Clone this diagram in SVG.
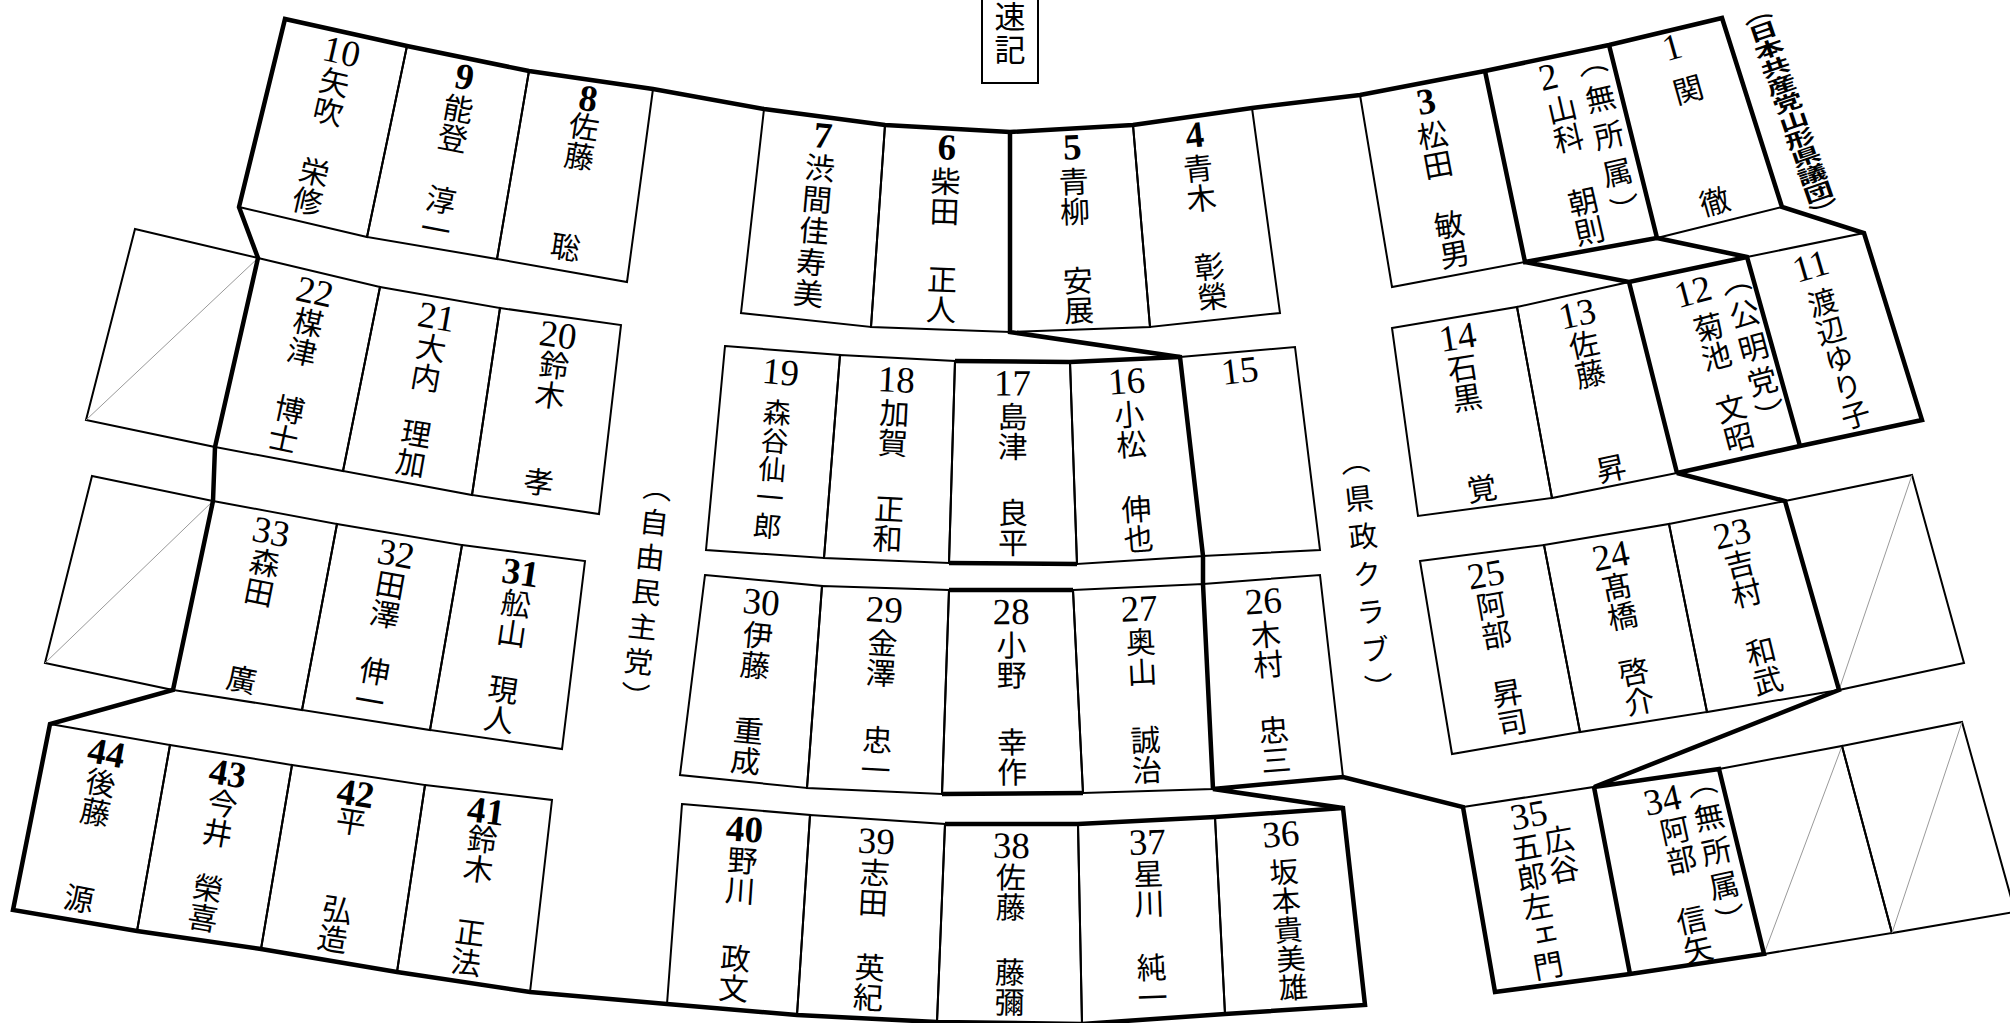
<svg xmlns="http://www.w3.org/2000/svg" width="2010" height="1023" viewBox="0 0 2010 1023">
<style>
.seat{fill:none;stroke:#000;stroke-width:2}
.thick{fill:none;stroke:#000;stroke-width:4.5;stroke-linejoin:miter}
.diag{stroke:#999;stroke-width:1}
.num{font-family:"Liberation Serif",serif;font-size:37px;text-anchor:middle}
.b{font-weight:bold}
.nm{font-family:"Noto Sans CJK JP",sans-serif;font-size:30px;writing-mode:vertical-rl}
.e{text-anchor:end}
.pty{letter-spacing:5px}
.lbl{font-family:"Noto Sans CJK JP",sans-serif;font-size:29px;writing-mode:vertical-rl}
</style>
<rect width="2010" height="1023" fill="#fff"/>

<g id="empty-boxes">
<polygon class="seat" points="135,229 258,258 215,447 86,420"/><line class="diag" x1="258" y1="258" x2="86" y2="420"/>
<polygon class="seat" points="92,476 213,501 173,690 45,663"/><line class="diag" x1="213" y1="501" x2="45" y2="663"/>
<polygon class="seat" points="1785,501 1912,475 1964,663 1839,690"/><line class="diag" x1="1912" y1="475" x2="1839" y2="690"/>
<polygon class="seat" points="1719,769 1842,746 1892,933 1764,954"/><line class="diag" x1="1842" y1="746" x2="1764" y2="954"/>
<polygon class="seat" points="1842,746 1962,722 2015,912 1892,933"/><line class="diag" x1="1962" y1="722" x2="1892" y2="933"/>
</g>

<g id="seat-10"><polygon class="seat" points="285,19 407,46 367,237 239,207"/><g transform="translate(346,32.5) rotate(12.8)"><text class="num" y="32">10</text><text class="nm" y="36">矢吹</text><text class="nm e" y="188">栄修</text></g></g>
<g id="seat-9"><polygon class="seat" points="407,46 529,71 497,259 367,237"/><g transform="translate(468,58.5) rotate(10.75)"><text class="num b" y="31">9</text><text class="nm" y="36">能登</text><text class="nm e" y="189">淳一</text></g></g>
<g id="seat-8"><polygon class="seat" points="529,71 653,89 627,282 497,259"/><g transform="translate(591,80) rotate(8.66)"><text class="num b" y="31">8</text><text class="nm" y="32">佐藤</text><text class="nm e" y="184">聡</text></g></g>
<g id="seat-7"><polygon class="seat" points="764,109 885,125 871,327 741,313"/><g transform="translate(824.5,117) rotate(5.2)"><text class="num b" y="31">7</text><text class="nm" y="36" style="letter-spacing:1.5px">渋間佳寿美</text></g></g>
<g id="seat-6"><polygon class="seat" points="885,125 1010,132 1010,332 871,327"/><g transform="translate(947.5,128.5) rotate(2)"><text class="num b" y="31">6</text><text class="nm" y="38">柴田</text><text class="nm e" y="196">正人</text></g></g>
<g id="seat-5"><polygon class="seat" points="1010,132 1133,125 1150,327 1010,332"/><g transform="translate(1071.5,128.5) rotate(-2.4)"><text class="num b" y="31">5</text><text class="nm" y="38">青柳</text><text class="nm e" y="197">安展</text></g></g>
<g id="seat-4"><polygon class="seat" points="1133,125 1252,108 1280,313 1150,327"/><g transform="translate(1192.5,116.5) rotate(-6.3)"><text class="num b" y="31">4</text><text class="nm" y="37">青木</text><text class="nm e" y="196">彰榮</text></g></g>
<g id="seat-3"><polygon class="seat" points="1360,95 1485,71 1525,262 1392,287"/><g transform="translate(1422.5,83) rotate(-10.65)"><text class="num b" y="31">3</text><text class="nm" y="38">松田</text><text class="nm e" y="189">敏男</text></g></g>
<g id="seat-2"><polygon class="seat" points="1485,71 1609,45 1657,238 1525,262"/><g transform="translate(1547,58) rotate(-12.9)"><text class="num" x="-3" y="31">2</text><text class="nm" x="3" y="38">山科</text><text class="nm e" x="3" y="193">朝則</text><text class="nm" x="43" y="-2" style="letter-spacing:8px">（無所属）</text></g></g>
<g id="seat-1"><polygon class="seat" points="1609,45 1722,18 1782,207 1657,238"/><g transform="translate(1665.5,31.5) rotate(-15.8)"><text class="num" x="2" y="29">1</text><text class="nm" x="6" y="47">関</text><text class="nm e" x="1" y="192">徹</text></g></g>

<g id="seat-22"><polygon class="seat" points="258,258 380,287 343,471 215,447"/><g transform="translate(319,272.5) rotate(12.1)"><text class="num" y="32">22</text><text class="nm" y="36">楳津</text><text class="nm e" y="185">博士</text></g></g>
<g id="seat-21"><polygon class="seat" points="380,287 500,308 472,495 343,471"/><g transform="translate(440,297.5) rotate(9.94)"><text class="num" y="32">21</text><text class="nm" y="36">大内</text><text class="nm e" y="183">理加</text></g></g>
<g id="seat-20"><polygon class="seat" points="500,308 621,325 599,514 472,495"/><g transform="translate(560.5,316.5) rotate(7.57)"><text class="num" y="31">20</text><text class="nm" y="34">鈴木</text><text class="nm e" y="182">孝</text></g></g>
<g id="seat-19"><polygon class="seat" points="725,346 840,355 824,558 706,550"/><g transform="translate(782.5,350.5) rotate(4.9)"><text class="num" y="34">19</text><text class="nm" y="48" style="font-size:28px;letter-spacing:0.5px">森谷仙一郎</text></g></g>
<g id="seat-18"><polygon class="seat" points="840,355 955,361 949,563 824,558"/><g transform="translate(897.5,358) rotate(3.1)"><text class="num" y="34">18</text><text class="nm" y="40">加賀</text><text class="nm e" y="196">正和</text></g></g>
<g id="seat-17"><polygon class="seat" points="955,361 1070,362 1077,564 949,563"/><g transform="translate(1012.5,361.5) rotate(-0.14)"><text class="num" y="34">17</text><text class="nm" y="40">島津</text><text class="nm e" y="196">良平</text></g></g>
<g id="seat-16"><polygon class="seat" points="1070,362 1180,357 1203,556 1077,564"/><g transform="translate(1125,359.5) rotate(-4.3)"><text class="num" y="34">16</text><text class="nm" y="40">小松</text><text class="nm e" y="195">伸也</text></g></g>
<g id="seat-15"><polygon class="seat" points="1180,357 1295,347 1320,550 1203,556"/><g transform="translate(1237.5,352) rotate(-6.8)"><text class="num" y="31">15</text></g></g>
<g id="seat-14"><polygon class="seat" points="1392,328 1517,307 1552,498 1418,516"/><g transform="translate(1454.5,317.5) rotate(-9.1)"><text class="num" y="32">14</text><text class="nm" y="36">石黒</text><text class="nm e" y="188">覚</text></g></g>
<g id="seat-13"><polygon class="seat" points="1517,307 1629,282 1677,473 1552,498"/><g transform="translate(1573,294.5) rotate(-12.3)"><text class="num" y="32">13</text><text class="nm" y="36">佐藤</text><text class="nm e" y="193">昇</text></g></g>
<g id="seat-12"><polygon class="seat" points="1629,282 1747,257 1800,446 1677,473"/><g transform="translate(1688,269.5) rotate(-14.9)"><text class="num" x="-1" y="35">12</text><text class="nm" x="5" y="46">菊池</text><text class="nm e" x="6" y="190">文昭</text><text class="nm pty" x="43" y="7">（公明党）</text></g></g>
<g id="seat-11"><polygon class="seat" points="1747,257 1864,233 1922,420 1800,446"/><g transform="translate(1805.5,245) rotate(-16.4)"><text class="num" x="-1" y="34">11</text><text class="nm" y="45" style="font-size:29.3px">渡辺ゆり子</text></g></g>

<g id="seat-33"><polygon class="seat" points="213,501 337,524 302,710 173,690"/><g transform="translate(275,512.5) rotate(11.3)"><text class="num" y="32">33</text><text class="nm" y="36">森田</text><text class="nm e" y="185">廣</text></g></g>
<g id="seat-32"><polygon class="seat" points="337,524 462,545 430,730 302,710"/><g transform="translate(399.5,534.5) rotate(10.2)"><text class="num" y="32">32</text><text class="nm" y="36">田澤</text><text class="nm e" y="184">伸一</text></g></g>
<g id="seat-31"><polygon class="seat" points="462,545 585,561 562,749 430,730"/><g transform="translate(523.5,553) rotate(8.4)"><text class="num b" y="32">31</text><text class="nm" y="36">舩山</text><text class="nm e" y="183">現人</text></g></g>
<g id="seat-30"><polygon class="seat" points="705,575 822,586 807,788 680,775"/><g transform="translate(763.5,580.5) rotate(5.7)"><text class="num" y="34">30</text><text class="nm" y="40">伊藤</text><text class="nm e" y="196">重成</text></g></g>
<g id="seat-29"><polygon class="seat" points="822,586 949,590 942,794 807,788"/><g transform="translate(885.5,588) rotate(3.1)"><text class="num" y="34">29</text><text class="nm" y="40">金澤</text><text class="nm e" y="197">忠一</text></g></g>
<g id="seat-28"><polygon class="seat" points="949,590 1073,590 1083,793 942,794"/><g transform="translate(1011,590) rotate(-0.4)"><text class="num" y="34">28</text><text class="nm" y="40">小野</text><text class="nm e" y="197">幸作</text></g></g>
<g id="seat-27"><polygon class="seat" points="1073,590 1203,584 1213,789 1083,793"/><g transform="translate(1138,587) rotate(-2.8)"><text class="num" y="34">27</text><text class="nm" y="40">奥山</text><text class="nm e" y="198">誠治</text></g></g>
<g id="seat-26"><polygon class="seat" points="1203,584 1320,575 1343,777 1213,789"/><g transform="translate(1261.5,579.5) rotate(-4.6)"><text class="num" y="34">26</text><text class="nm" y="40">木村</text><text class="nm e" y="196">忠三</text></g></g>
<g id="seat-25"><polygon class="seat" points="1420,561 1544,545 1580,732 1452,754"/><g transform="translate(1482,553) rotate(-10.1)"><text class="num" y="34">25</text><text class="nm" y="38">阿部</text><text class="nm e" y="187">昇司</text></g></g>
<g id="seat-24"><polygon class="seat" points="1544,545 1669,524 1707,712 1580,732"/><g transform="translate(1606.5,534.5) rotate(-11.2)"><text class="num" y="34">24</text><text class="nm" y="38">髙橋</text><text class="nm e" y="185">啓介</text></g></g>
<g id="seat-23"><polygon class="seat" points="1669,524 1785,501 1839,690 1707,712"/><g transform="translate(1727,512.5) rotate(-13.7)"><text class="num" y="34">23</text><text class="nm" y="38">吉村</text><text class="nm e" y="188">和武</text></g></g>

<g id="seat-44"><polygon class="seat" points="50,724 170,745 137,931 13,910"/><g transform="translate(110,734.5) rotate(10.66)"><text class="num b" y="31">44</text><text class="nm" y="34">後藤</text><text class="nm e" y="182">源</text></g></g>
<g id="seat-43"><polygon class="seat" points="170,745 292,765 261,949 137,931"/><g transform="translate(231,755) rotate(9.8)"><text class="num b" y="31">43</text><text class="nm" y="34">今井</text><text class="nm e" y="180">榮喜</text></g></g>
<g id="seat-42"><polygon class="seat" points="292,765 425,785 397,972 261,949"/><g transform="translate(358.5,775) rotate(9)"><text class="num b" y="31">42</text><text class="nm" y="32">平</text><text class="nm e" y="181">弘造</text></g></g>
<g id="seat-41"><polygon class="seat" points="425,785 552,800 530,992 397,972"/><g transform="translate(488.5,792.5) rotate(7.5)"><text class="num b" y="31">41</text><text class="nm" y="32">鈴木</text><text class="nm e" y="186">正法</text></g></g>
<g id="seat-40"><polygon class="seat" points="682,804 810,815 797,1015 667,1004"/><g transform="translate(746,809.5) rotate(4)"><text class="num b" y="32">40</text><text class="nm" y="36">野川</text><text class="nm e" y="194">政文</text></g></g>
<g id="seat-39"><polygon class="seat" points="810,815 945,824 937,1022 797,1015"/><g transform="translate(877.5,819.5) rotate(3)"><text class="num" y="34">39</text><text class="nm" y="38">志田</text><text class="nm e" y="193">英紀</text></g></g>
<g id="seat-38"><polygon class="seat" points="945,824 1078,824 1082,1024 937,1022"/><g transform="translate(1011.5,824) rotate(0.6)"><text class="num" y="34">38</text><text class="nm" y="38">佐藤</text><text class="nm e" y="193">藤彌</text></g></g>
<g id="seat-37"><polygon class="seat" points="1078,824 1215,817 1225,1014 1082,1024"/><g transform="translate(1146.5,820.5) rotate(-2)"><text class="num" y="34">37</text><text class="nm" y="38">星川</text><text class="nm e" y="192">純一</text></g></g>
<g id="seat-36"><polygon class="seat" points="1215,817 1343,808 1365,1005 1225,1014"/><g transform="translate(1279,812.5) rotate(-4.6)"><text class="num" y="34">36</text><text class="nm" y="45" style="font-size:29px">坂本貴美雄</text></g></g>
<g id="seat-35"><polygon class="seat" points="1463,807 1594,787 1630,974 1495,992"/><g transform="translate(1528.5,797) rotate(-10.4)"><text class="num" x="-3" y="30">35</text><text class="nm" x="22" y="32">広谷</text><text class="nm" x="-11" y="34">五郎左ェ門</text></g></g>
<g id="seat-34"><polygon class="seat" points="1594,787 1719,769 1764,954 1630,974"/><g transform="translate(1656.5,778) rotate(-12.3)"><text class="num" x="1" y="35">34</text><text class="nm" x="7" y="40">阿部</text><text class="nm e" x="4" y="191">信矢</text><text class="nm pty" x="43" y="-1">（無所属）</text></g></g>

<g id="labels">
<rect x="982" y="-5" width="56" height="88" fill="none" stroke="#000" stroke-width="2"/>
<text class="lbl" x="1010" y="1" style="font-size:31px;letter-spacing:2px">速記</text>
<g transform="translate(659.5,473) rotate(6.3)"><text class="lbl" y="0" style="letter-spacing:6px">（自由民主党）</text></g>
<g transform="translate(1353.4,446) rotate(-6.1)"><text class="lbl" y="0" style="letter-spacing:9px">（県政クラブ）</text></g>
<g transform="translate(1757,14) rotate(-19) scale(1,0.63)"><text class="lbl" y="-16" style="font-size:30px;font-weight:bold">（日本共産党山形県議団）</text></g>
</g>

<g id="connectors">
<path class="thick" d="M239,207 L285,19 L407,46 L529,71 L653,89 L764,109 L885,125 L1010,132 L1133,125 L1252,108 L1360,95 L1485,71 L1609,45 L1722,18 L1782,207 L1864,233 L1922,420 L1800,446 L1677,473 L1785,501 L1839,690 L1594,787 L1719,769 L1764,954 L1630,974 L1495,992 L1463,807 L1343,777 L1213,789 L1343,808 L1365,1005 L1225,1014 L1082,1024 L937,1022 L797,1015 L667,1004 L530,992 L397,972 L261,949 L137,931 L13,910 L50,724 L173,690 L213,501 L215,447 L258,258 Z"/>
<path class="thick" d="M1010,132 L1010,332 L1180,357 L1203,556 L1203,584 L1213,789"/>
<path class="thick" d="M1485,71 L1525,262 L1657,238 L1609,45 M1657,238 L1747,257 L1800,446 M1525,262 L1629,282 L1747,257 M1629,282 L1677,473 M1594,787 L1630,974"/>
<path class="thick" d="M955,361 L1070,362 L1180,357 M949,563 L1077,564 M949,590 L1073,590 M942,794 L1083,793 M945,824 L1078,824 L1215,817 L1343,808"/>
</g>
</svg>
